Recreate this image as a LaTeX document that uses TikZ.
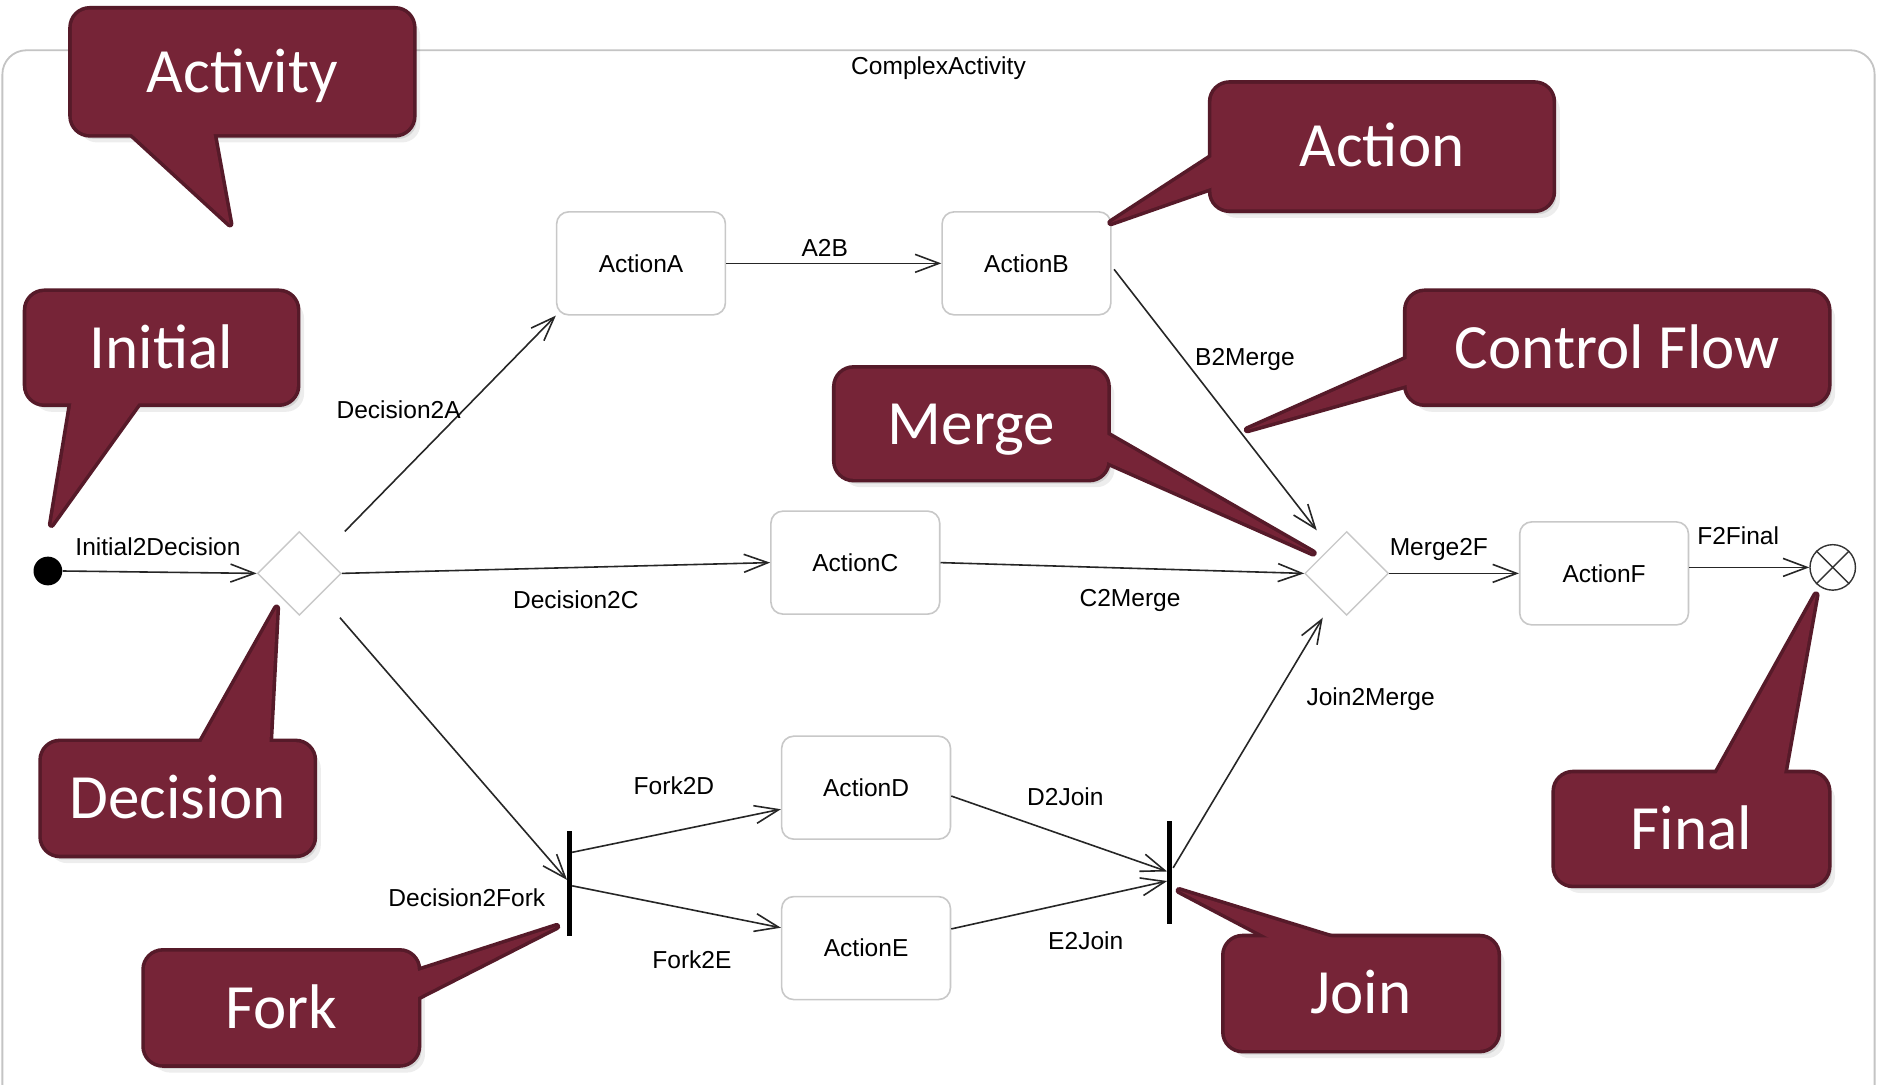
\documentclass[tikz,border=0pt]{standalone}
\usepackage{fontspec}
\setmainfont{Liberation Sans}
\newfontfamily\callfont{Carlito}
\usetikzlibrary{arrows.meta,shapes.geometric}
\definecolor{cfill}{HTML}{762437}
\definecolor{cline}{HTML}{561A29}
\definecolor{boxline}{HTML}{C8C8C8}
\definecolor{framec}{HTML}{C4C4C4}
\newcommand\lblfont{\fontsize{12.3pt}{14pt}\selectfont}
\newcommand\calfont{\callfont\fontsize{31.6pt}{36pt}\selectfont}
\tikzset{
  act/.style={draw=boxline, line width=0.8pt, rounded corners=6pt, fill=white,
    minimum width=84.6pt, minimum height=51.6pt, inner sep=0pt, font=\lblfont},
  dia/.style={diamond, draw=boxline, line width=0.7pt, fill=white, aspect=1,
    minimum width=42pt, minimum height=42pt, inner sep=0pt},
  syncbar/.style={fill=black, minimum width=2.4pt, inner sep=0pt},
  flow/.style={draw=black!85, line width=0.8pt, -{Straight Barb[length=12pt,width=9pt]}},
  lbl/.style={font=\lblfont, anchor=base, inner sep=0pt},
  calltext/.style={font=\calfont, text=white, anchor=base, inner sep=0pt},
}
% #1 name, (#2,#3) top-left, (#4,#5) bottom-right, #6 base1, #7 tip, #8 base2, #9 text
\newcommand\mycallout[9]{%
  \coordinate (#1b1) at #6;
  \coordinate (#1tip) at #7;
  \coordinate (#1b2) at #8;
  \fill[black,opacity=0.10,rounded corners=9pt,shift={(3,4)}] (#2,#3) rectangle (#4,#5);
  \fill[black,opacity=0.07,rounded corners=9pt,shift={(6,7)}] (#2,#3) rectangle (#4,#5);
  \fill[black,opacity=0.10,shift={(3,4)}] (#1b1) -- (#1tip) -- (#1b2) -- cycle;
  \fill[black,opacity=0.07,shift={(6,7)}] (#1b1) -- (#1tip) -- (#1b2) -- cycle;
  \draw[cline,line width=3.6pt,rounded corners=9pt] (#2,#3) rectangle (#4,#5);
  \draw[cline,line width=3.6pt,line join=round] (#1b1) -- (#1tip) -- (#1b2) -- cycle;
  \fill[cfill,rounded corners=9pt] (#2,#3) rectangle (#4,#5);
  \fill[cfill] (#1b1) -- (#1tip) -- (#1b2) -- cycle;
  \node[calltext] (#1) at ({(#2+#4)/2},{(#3+#5)/2+17}) {#9};
}
\begin{document}
\begin{tikzpicture}[x=0.6pt,y=-0.6pt]
\path[use as bounding box, fill=white] (0,0) rectangle (1568,906);
\clip (0,0) rectangle (1568,906);
% activity frame
\draw[framec, line width=0.9pt, rounded corners=12pt] (2,42) rectangle (1566,960);
\node[lbl] (title) at (784,62) {ComplexActivity};

% nodes
\node[circle, fill=black, minimum size=14.4pt, inner sep=0pt] (ini) at (40,477) {};
\node[dia] (dec) at (250,479) {};
\node[act] (A) at (535.5,220) {ActionA};
\node[act] (B) at (857.5,220) {ActionB};
\node[act] (C) at (714.5,470) {ActionC};
\node[dia] (mrg) at (1125,479) {};
\node[act] (F) at (1340,479) {ActionF};
\node[circle, draw=black!80, line width=0.7pt, minimum size=22.8pt, inner sep=0pt] (fin) at (1531,474) {};
\draw[black!80, line width=0.7pt] (fin.45) -- (fin.225) (fin.135) -- (fin.315);
\node[syncbar, minimum height=52.2pt] (fork) at (476,738) {};
\node[act] (D) at (723.5,658) {ActionD};
\node[act] (E) at (723.5,792) {ActionE};
\node[syncbar, minimum height=51.6pt] (join) at (977,729) {};

% control flows
\draw[flow] (ini.east) -- (dec.west);
\draw[flow] ([shift={(38,-35)}]dec.center) -- (A.south west);
\draw[flow] (dec.east) -- (C.west);
\draw[flow] ([shift={(34,37)}]dec.center) -- ([shift={(0,-3)}]fork.west);
\draw[flow] (A.east) -- (B.west);
\draw[flow] ([shift={(2,5)}]B.east) -- ([shift={(-25,-36)}]mrg.center);
\draw[flow] (C.east) -- (mrg.west);
\draw[flow] ([shift={(3,-4)}]join.center) -- ([shift={(-20,37)}]mrg.center);
\draw[flow] (mrg.east) -- (F.west);
\draw[flow] (F.east |- fin.west) -- (fin.west);
\draw[flow] ([shift={(2,-26)}]fork.center) -- ([shift={(0,18)}]D.west);
\draw[flow] ([shift={(2,2)}]fork.center) -- ([shift={(0,-17)}]E.west);
\draw[flow] ([shift={(0,7)}]D.east) -- ([shift={(-2,-1)}]join.center);
\draw[flow] ([shift={(0,-16)}]E.east) -- ([shift={(-2,7)}]join.center);

% flow labels
\node[lbl] (l1) at (132,464) {Initial2Decision};
\node[lbl] (l2) at (333,350) {Decision2A};
\node[lbl] (l3) at (481,508) {Decision2C};
\node[lbl] (l4) at (390,757) {Decision2Fork};
\node[lbl] (l5) at (689,214) {A2B};
\node[lbl] (l6) at (1040,305) {B2Merge};
\node[lbl] (l7) at (944,507) {C2Merge};
\node[lbl] (l8) at (1145,589) {Join2Merge};
\node[lbl] (l9) at (1202,464) {Merge2F};
\node[lbl] (l10) at (1452,455) {F2Final};
\node[lbl] (l11) at (563,664) {Fork2D};
\node[lbl] (l12) at (578,809) {Fork2E};
\node[lbl] (l13) at (890,673) {D2Join};
\node[lbl] (l14) at (907,793) {E2Join};

% callouts
\mycallout{cAct}{60}{8}{345}{112}{(108,110)}{(192,187)}{(178,110)}{Activity}
\mycallout{cAction}{1012}{70}{1297}{175}{(1014,130)}{(928,186)}{(1014,156)}{Action}
\mycallout{cInit}{22}{244}{248}{337}{(60,335)}{(43,438)}{(117,335)}{Initial}
\mycallout{cCF}{1175}{244}{1527}{337}{(1177,299)}{(1042,359)}{(1177,321)}{Control Flow}
\mycallout{cMerge}{698}{308}{925}{400}{(923,362)}{(1097,462)}{(923,385)}{Merge}
\mycallout{cDec}{35}{620}{262}{714}{(167,622)}{(231,508)}{(225,622)}{Decision}
\mycallout{cFinal}{1299}{646}{1527}{739}{(1433,648)}{(1517,497)}{(1490,648)}{Final}
\mycallout{cFork}{121}{795}{349}{889}{(347,812)}{(465,774)}{(347,834)}{Fork}
\mycallout{cJoin}{1023}{783}{1251}{877}{(1063,785)}{(985,744)}{(1118,785)}{Join}
\end{tikzpicture}
\end{document}
